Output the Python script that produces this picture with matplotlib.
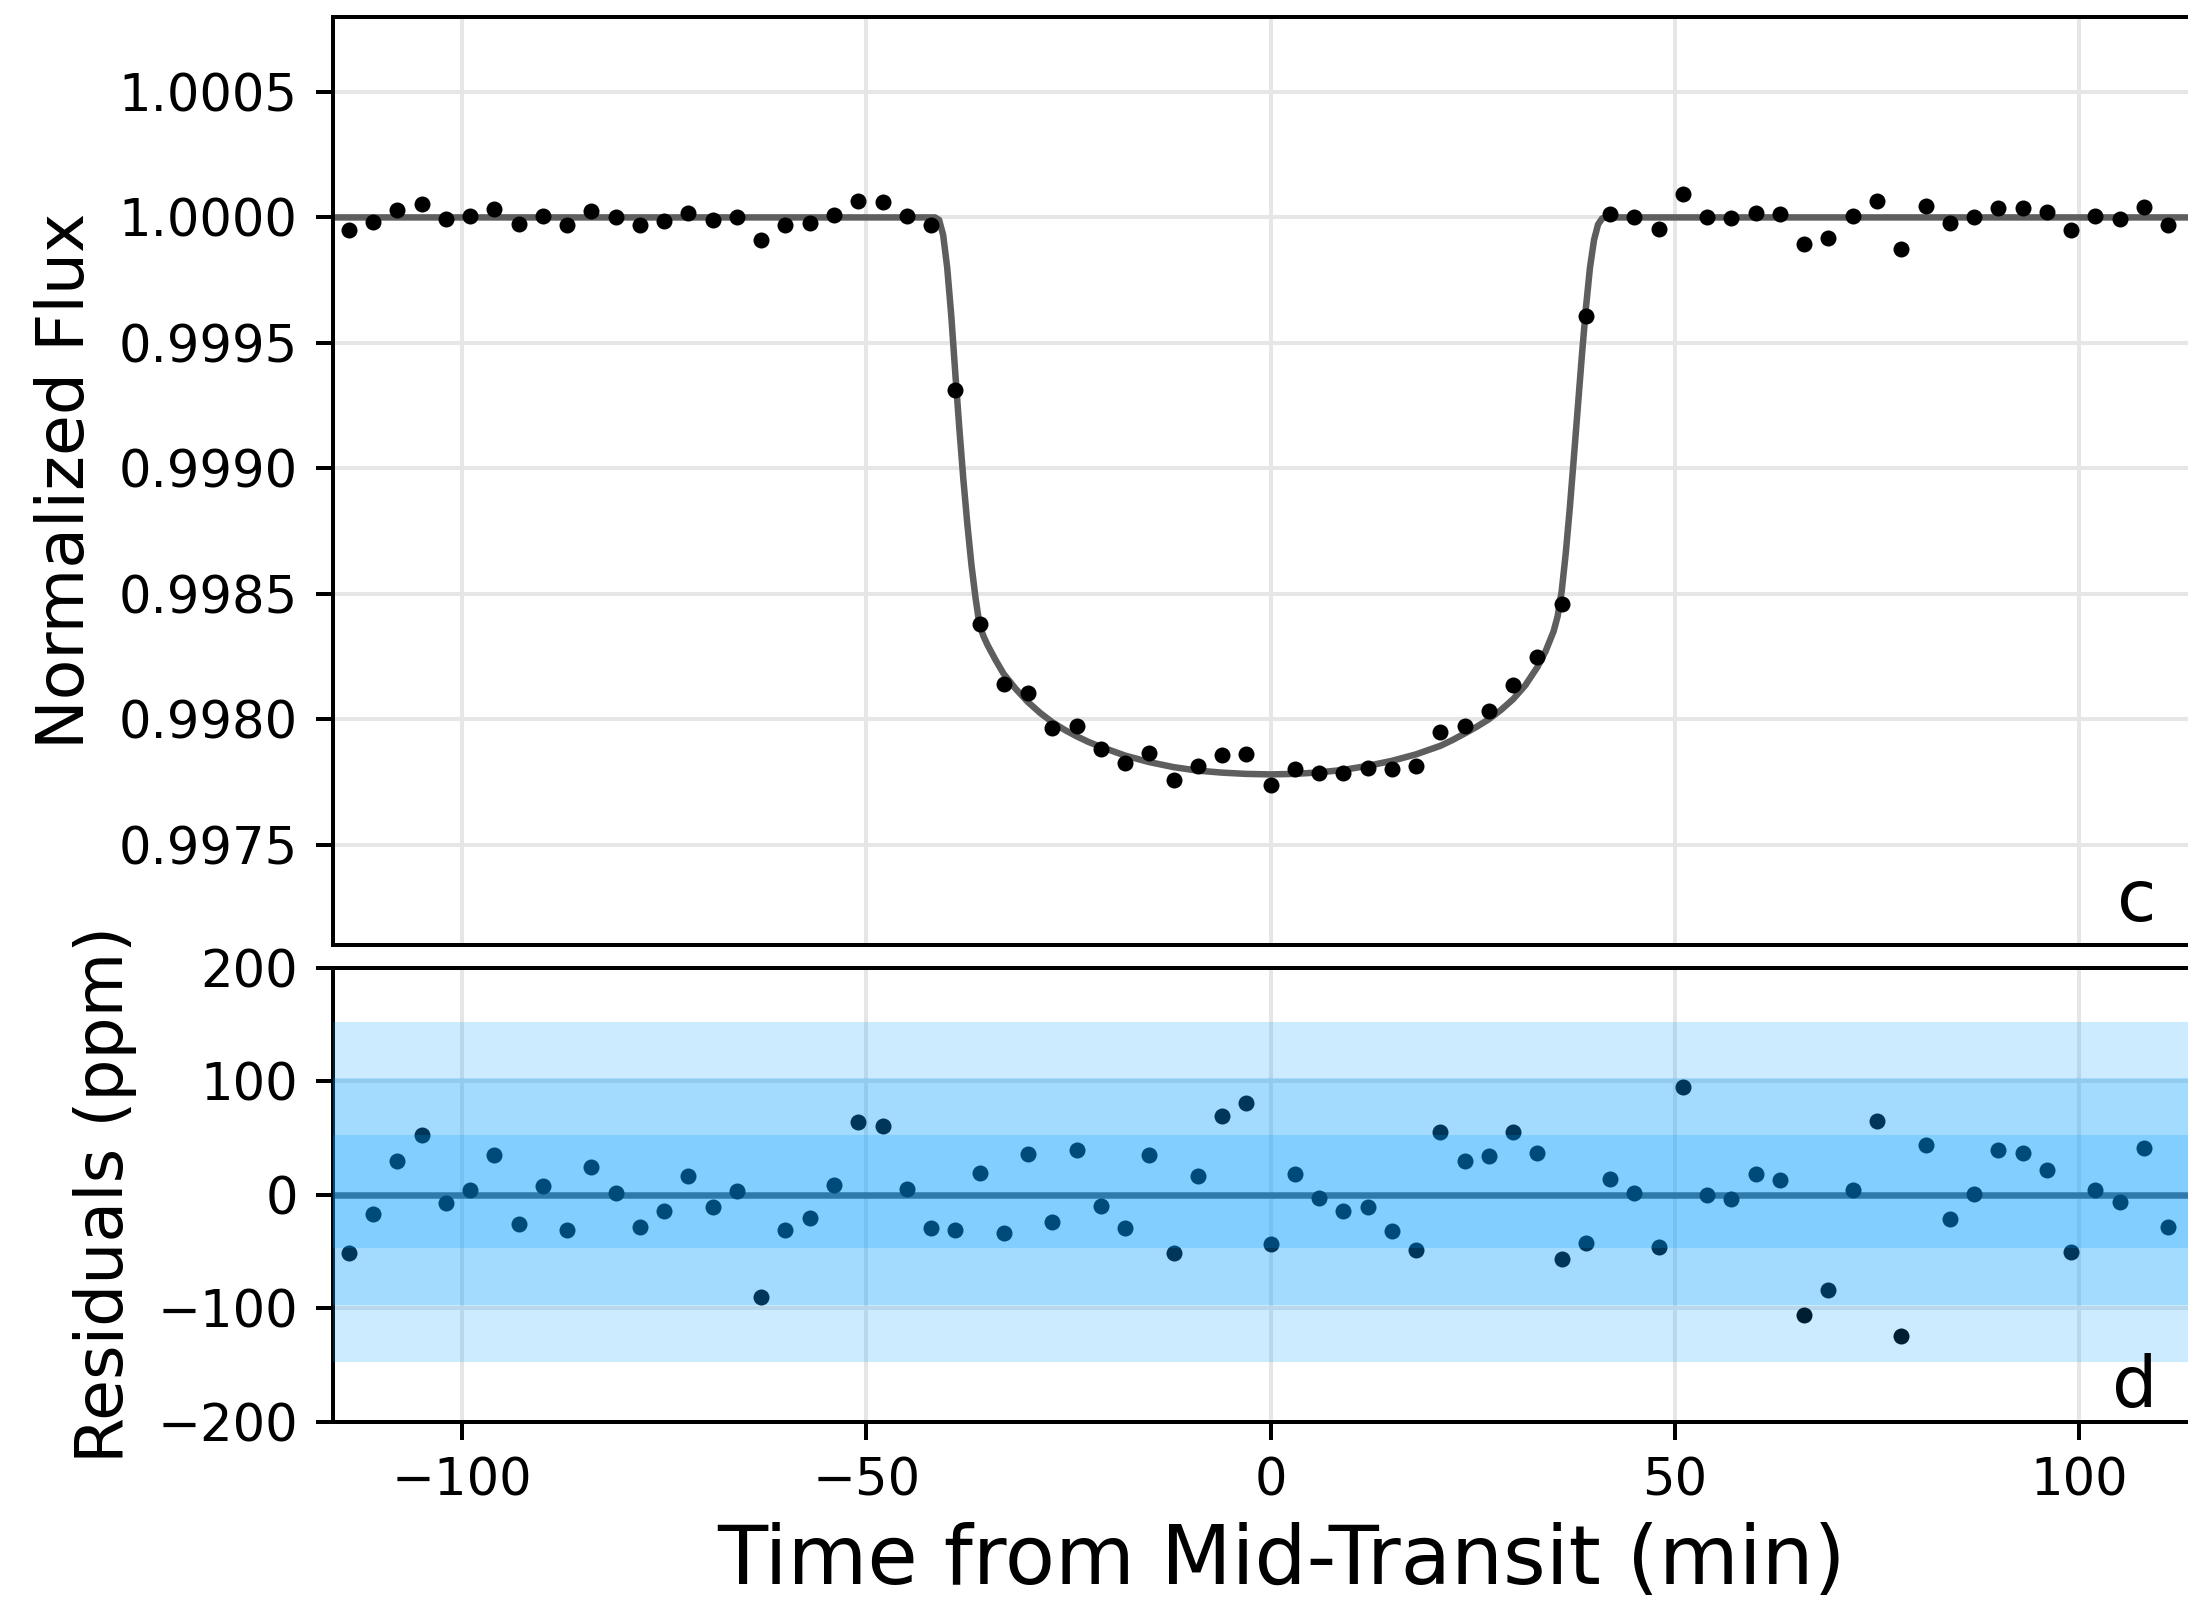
import matplotlib
matplotlib.use("Agg")
import matplotlib.pyplot as plt
from matplotlib.ticker import FormatStrFormatter

# ---------------- data ----------------
time_min = [-114, -111, -108, -105, -102, -99, -96, -93, -90, -87,
            -84, -81, -78, -75, -72, -69, -66, -63, -60, -57,
            -54, -51, -48, -45, -42, -39, -36, -33, -30, -27,
            -24, -21, -18, -15, -12, -9, -6, -3, 0, 3,
            6, 9, 12, 15, 18, 21, 24, 27, 30, 33,
            36, 39, 42, 45, 48, 51, 54, 57, 60, 63,
            66, 69, 72, 75, 78, 81, 84, 87, 90, 93,
            96, 99, 102, 105, 108, 111]

flux = [0.9999485, 0.9999832, 1.0000300, 1.0000524, 0.9999926, 1.0000038, 1.0000350, 0.9999744, 1.0000074, 0.9999688,
        1.0000247, 1.0000012, 0.9999714, 0.9999853, 1.0000168, 0.9999894, 1.0000035, 0.9999099, 0.9999691, 0.9999794,
        1.0000082, 1.0000645, 1.0000606, 1.0000050, 0.9999706, 0.999311, 0.998378, 0.998140, 0.998103, 0.997965,
        0.997973, 0.997880, 0.997826, 0.997865, 0.997757, 0.997812, 0.997857, 0.997862, 0.997736, 0.997800,
        0.997787, 0.997785, 0.997804, 0.997802, 0.997812, 0.997950, 0.997973, 0.998034, 0.998138, 0.998247,
        0.998460, 0.999607, 1.0000138, 1.0000015, 0.9999535, 1.0000948, 0.9999997, 0.9999962, 1.0000182, 1.0000132,
        0.9998940, 0.9999164, 1.0000044, 1.0000647, 0.9998752, 1.0000439, 0.9999785, 1.0000009, 1.0000394, 1.0000365,
        1.0000215, 0.9999494, 1.0000044, 0.9999938, 1.0000409, 0.9999712]

residual_ppm = [-51.5, -16.8, 30.0, 52.4, -7.4, 3.8, 35.0, -25.6, 7.4, -31.2,
                24.7, 1.2, -28.6, -14.7, 16.8, -10.6, 3.5, -90.1, -30.9, -20.6,
                8.2, 64.5, 60.6, 5.0, -29.4, -31.2, 18.8, -33.8, 35.9, -24.1,
                39.7, -10.3, -29.4, 35.3, -51.5, 16.8, 69.8, 81.0, -43.6, 18.0,
                -2.9, -14.1, -10.9, -32.1, -48.9, 55.4, 29.4, 33.8, 55.6, 36.8,
                -56.5, -42.7, 13.8, 1.5, -46.5, 94.8, -0.3, -3.8, 18.2, 13.2,
                -106.0, -83.6, 4.4, 64.7, -124.8, 43.9, -21.5, 0.9, 39.4, 36.5,
                21.5, -50.6, 4.4, -6.2, 40.9, -28.8]

model_time = [-120, -42, -41.5, -41, -40.5, -40, -39.5, -39, -38.5, -38,
              -37.5, -37, -36.5, -36, -35.5, -35, -34, -33, -31.5, -30,
              -28.5, -27, -25.5, -24, -22.5, -21, -18, -15, -12, -9,
              -6, -3, 0, 3, 6, 9, 12, 15, 18, 21,
              22.5, 24, 25.5, 27, 28.5, 30, 31.5, 33, 34, 35,
              35.5, 36, 36.5, 37, 37.5, 38, 38.5, 39, 39.5, 40,
              40.5, 41, 41.5, 120]

model_flux = [1.0, 1.0, 1.0, 0.99999, 0.99993, 0.99980, 0.99961, 0.99938, 0.99916, 0.998955,
              0.998775, 0.998615, 0.998485, 0.998375, 0.998330, 0.998295, 0.998235, 0.998180, 0.998120, 0.998068,
              0.998025, 0.997988, 0.997958, 0.997932, 0.997909, 0.997890, 0.997855, 0.997829, 0.997809, 0.997795,
              0.997787, 0.997782, 0.997780, 0.997782, 0.997788, 0.997798, 0.997814, 0.997834, 0.997860, 0.997894,
              0.997917, 0.997943, 0.997970, 0.998000, 0.998037, 0.998080, 0.998135, 0.998208, 0.998270, 0.998350,
              0.998410, 0.998510, 0.998660, 0.998840, 0.999040, 0.999245, 0.999450, 0.999640, 0.999800, 0.999910,
              0.999972, 0.999996, 1.0, 1.0]

resid_center = 2.8     # ppm
resid_sigma = 50.0     # ppm

flux_ticks = [0.9975, 0.9980, 0.9985, 0.9990, 0.9995, 1.0000, 1.0005]
resid_ticks = [-200, -100, 0, 100, 200]
time_ticks = [-100, -50, 0, 50, 100]

# ---------------- figure ----------------
DPI = 360
fig = plt.figure(figsize=(2188 / DPI, 1602 / DPI), dpi=DPI)
plt.rcParams['font.family'] = ['DejaVu Sans']

ax1 = fig.add_axes([0.15206, 0.41011, 0.85731, 0.57946])
ax2 = fig.add_axes([0.15206, 0.11267, 0.85731, 0.28308], sharex=ax1)

grid_kw = dict(color='0.9', linewidth=0.8)
TICK_FS = 10.25
YLAB_FS = 13.3

# top panel
ax1.grid(True, **grid_kw)
ax1.set_axisbelow(True)
ax1.plot(model_time, model_flux, color='0.37', linewidth=1.3, zorder=2)
ax1.plot(time_min, flux, 'o', color='k', markersize=3.2, markeredgewidth=0, zorder=3)
ax1.set_xlim(-116, 116)
ax1.set_ylim(0.9971, 1.0008)
ax1.set_yticks(flux_ticks)
ax1.yaxis.set_major_formatter(FormatStrFormatter('%.4f'))
ax1.tick_params(axis='x', which='both', length=0, labelbottom=False)
ax1.tick_params(axis='y', labelsize=TICK_FS)
ax1.set_ylabel('Normalized Flux', fontsize=YLAB_FS)
ax1.text(0.972, 0.026, 'c', transform=ax1.transAxes, fontsize=14.3,
         ha='right', va='baseline')

# bottom panel
ax2.grid(True, **grid_kw)
ax2.set_axisbelow(True)
ax2.axhline(0, color='0.37', linewidth=1.3, zorder=1.5)
ax2.plot(time_min, residual_ppm, 'o', color='k', markersize=3.2, markeredgewidth=0, zorder=2)
for k in (3, 2, 1):
    ax2.axhspan(resid_center - k * resid_sigma, resid_center + k * resid_sigma,
                color='#009bff', alpha=0.2, linewidth=0, zorder=3)
ax2.set_ylim(-200, 200)
ax2.set_yticks(resid_ticks)
ax2.set_xticks(time_ticks)
ax2.tick_params(axis='both', labelsize=TICK_FS)
ax2.set_ylabel('Residuals (ppm)', fontsize=YLAB_FS)
ax2.set_xlabel('Time from Mid-Transit (min)', fontsize=16.4, labelpad=3.0, x=0.506)
ax2.text(0.973, 0.032, 'd', transform=ax2.transAxes, fontsize=14.3,
         ha='right', va='baseline')

fig.savefig('out.png', dpi=DPI)
